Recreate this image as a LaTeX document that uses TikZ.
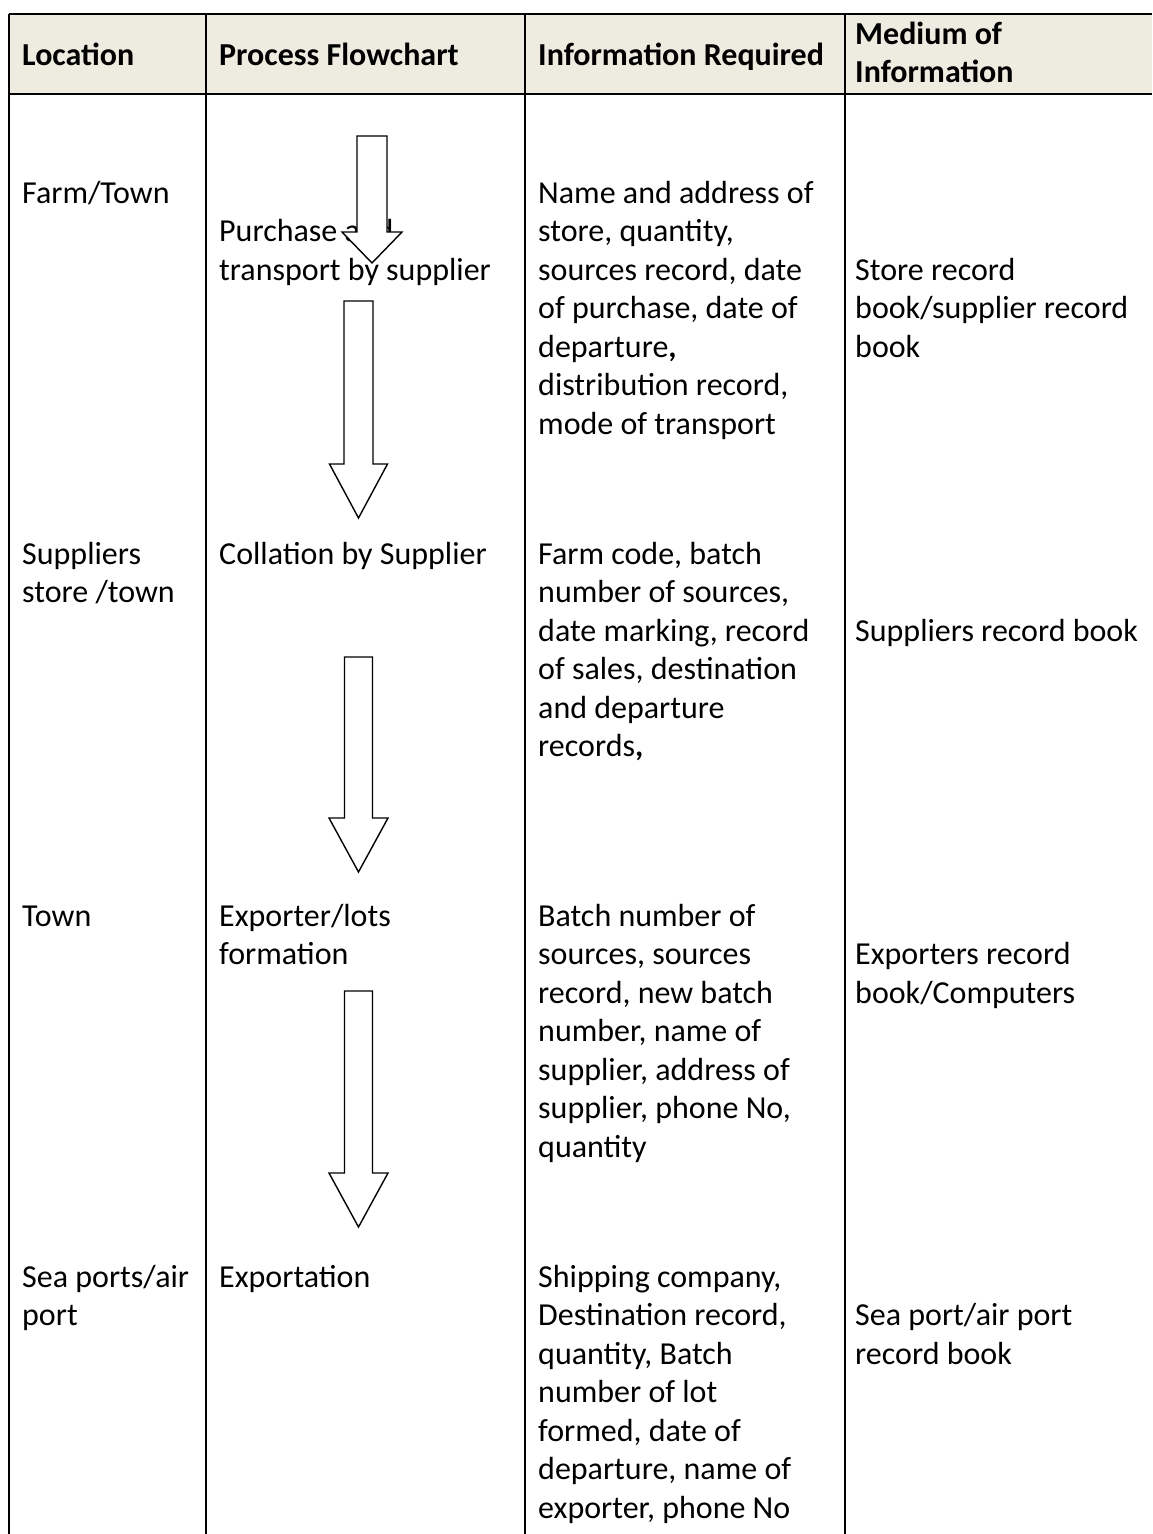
\documentclass[tikz,border=0pt]{standalone}
\usepackage{fontspec}
\setmainfont{Carlito}
\definecolor{headfill}{HTML}{EEECE1}
\newcommand\tablefont{\fontsize{32}{38.5}\selectfont}
\newcommand\celllines[1]{\parbox[t]{330pt}{\raggedright #1}}

\begin{document}
\begin{tikzpicture}[x=1pt,y=-1pt,
  rule/.style={line width=1.8pt},
  headcell/.style={anchor=base west, inner sep=0pt, font=\tablefont\bfseries},
  bodycell/.style={anchor=base west, inner sep=0pt, font=\tablefont},
  blockarrow/.style={draw=black, fill=white, line width=1.4pt, line join=miter}]

\useasboundingbox (0,0) rectangle (1152,1534);

% header band
\fill[headfill] (9,14) rectangle (1152,94);

% rules of the table
\draw[rule] (9,14) -- (1152,14);
\draw[rule] (9,94) -- (1152,94);
\foreach \x in {9,206,525,845}
  \draw[rule] (\x,14) -- (\x,1534);

% header texts
\node[headcell] (hloc)  at (22,65)  {Location};
\node[headcell] (hproc) at (219,65) {Process Flowchart};
\node[headcell] (hinfo) at (538,65) {Information Required};
\node[headcell] (hmed)  at (855,44)  {\celllines{Medium of\\Information}};

% row 1
\node[bodycell] (loc1)  at (22,203)   {\celllines{Farm/Town}};
\node[bodycell] (proc1) at (219,241.5) {\celllines{Purchase and\\transport by supplier}};
\node[bodycell] (info1) at (538,203)  {\celllines{Name and address of\\store, quantity,\\sources record, date\\of purchase, date of\\departure\textbf{,}\\distribution record,\\mode of transport}};
\node[bodycell] (med1)  at (855,280)  {\celllines{Store record\\book/supplier record\\book}};

% row 2
\node[bodycell] (loc2)  at (22,564)   {\celllines{Suppliers\\store /town}};
\node[bodycell] (proc2) at (219,564)  {\celllines{Collation by Supplier}};
\node[bodycell] (info2) at (538,564)  {\celllines{Farm code, batch\\number of sources,\\date marking, record\\of sales, destination\\and departure\\records\textbf{,}}};
\node[bodycell] (med2)  at (855,641)  {\celllines{Suppliers record book}};

% row 3
\node[bodycell] (loc3)  at (22,926)   {\celllines{Town}};
\node[bodycell] (proc3) at (219,926)  {\celllines{Exporter/lots\\formation}};
\node[bodycell] (info3) at (538,926)  {\celllines{Batch number of\\sources, sources\\record, new batch\\number, name of\\supplier, address of\\supplier, phone No,\\quantity}};
\node[bodycell] (med3)  at (855,964.5) {\celllines{Exporters record\\book/Computers}};

% row 4
\node[bodycell] (loc4)  at (22,1287)  {\celllines{Sea ports/air\\port}};
\node[bodycell] (proc4) at (219,1287) {\celllines{Exportation}};
\node[bodycell] (info4) at (538,1287) {\celllines{Shipping company,\\Destination record,\\quantity, Batch\\number of lot\\formed, date of\\departure, name of\\exporter, phone No}};
\node[bodycell] (med4)  at (855,1325.5) {\celllines{Sea port/air port\\record book}};

% block arrows of the flowchart (drawn over the text)
% centre x, top of shaft, base of head, tip, half shaft width, half head width
\foreach \cx/\top/\hb/\tip/\hs/\hh in {
    372/136/232/263/15/30,
    358.5/301/464/518/14.5/29,
    358.5/657/818/872/14/29.5,
    358.5/991/1173/1227/14/29.5}
  \draw[blockarrow]
    (\cx-\hs,\top) -- (\cx+\hs,\top) -- (\cx+\hs,\hb) -- (\cx+\hh,\hb)
    -- (\cx,\tip) -- (\cx-\hh,\hb) -- (\cx-\hs,\hb) -- cycle;

\end{tikzpicture}
\end{document}
